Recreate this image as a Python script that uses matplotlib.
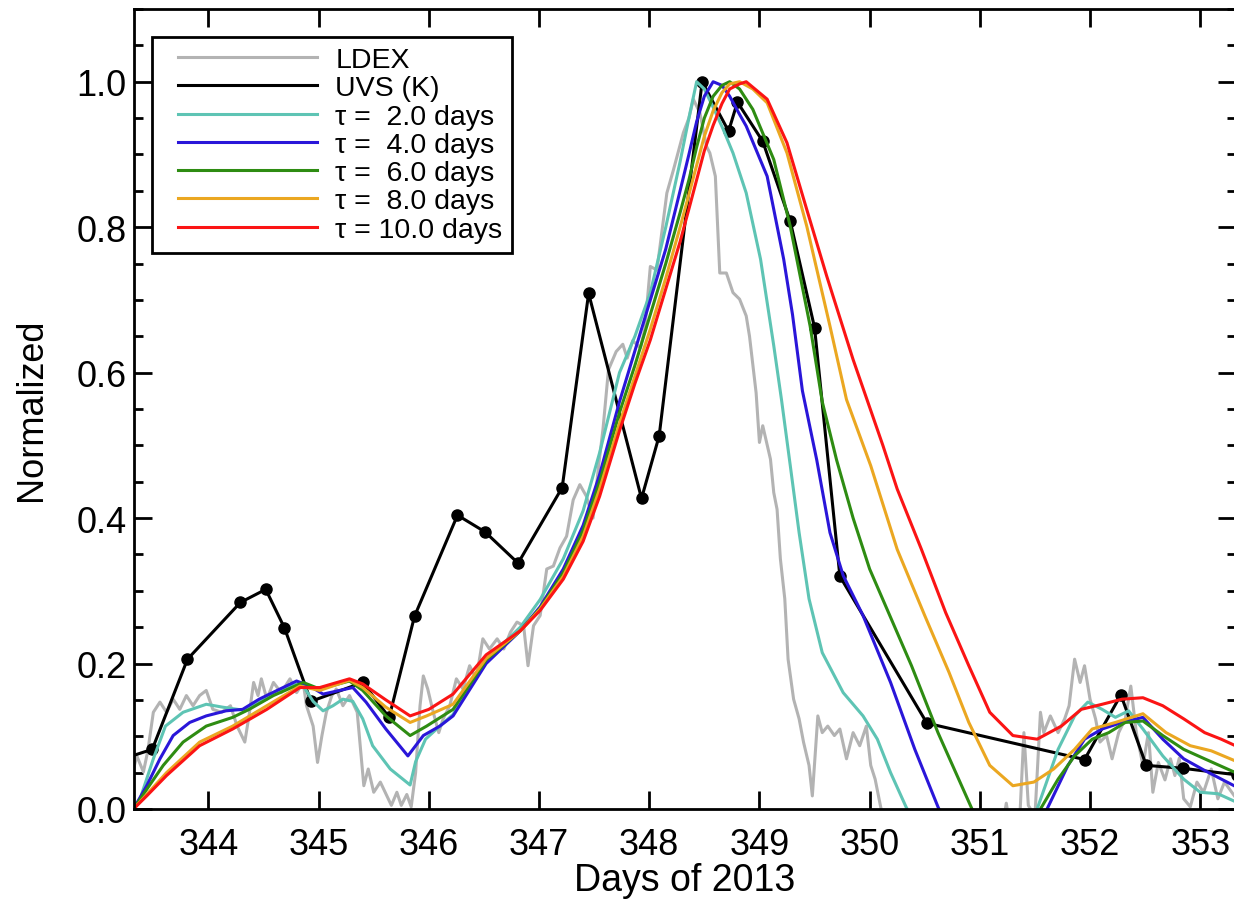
import matplotlib
matplotlib.use("Agg")
import matplotlib.pyplot as plt
from matplotlib.lines import Line2D
from matplotlib.legend_handler import HandlerLine2D
from matplotlib.ticker import MultipleLocator

plt.rcParams['font.family'] = ['Liberation Sans', 'DejaVu Sans']

# LDEX (grey, noisy)
ldex_day = [343.32, 343.35, 343.41, 343.45, 343.50, 343.56, 343.62, 343.68, 343.74, 343.80,
            343.86, 343.92, 343.98, 344.04, 344.12, 344.20, 344.26, 344.33, 344.37, 344.41,
            344.45, 344.48, 344.53, 344.59, 344.66, 344.74, 344.80, 344.86, 344.89, 344.95,
            344.99, 345.03, 345.07, 345.12, 345.16, 345.22, 345.28, 345.35, 345.38, 345.41,
            345.45, 345.50, 345.56, 345.62, 345.66, 345.71, 345.75, 345.80, 345.84, 345.88,
            345.92, 345.95, 345.99, 346.04, 346.09, 346.13, 346.19, 346.25, 346.31, 346.37,
            346.43, 346.49, 346.55, 346.62, 346.68, 346.74, 346.80, 346.86, 346.90, 346.95,
            347.01, 347.07, 347.13, 347.19, 347.25, 347.31, 347.37, 347.43, 347.49, 347.54,
            347.58, 347.63, 347.70, 347.76, 347.80, 347.85, 347.92, 347.96, 348.01, 348.07,
            348.12, 348.16, 348.22, 348.31, 348.36, 348.40, 348.46, 348.52, 348.55, 348.60,
            348.64, 348.70, 348.76, 348.82, 348.88, 348.91, 348.97, 349.00, 349.03, 349.10,
            349.13, 349.16, 349.19, 349.23, 349.26, 349.31, 349.36, 349.40, 349.45, 349.48,
            349.53, 349.57, 349.62, 349.68, 349.73, 349.79, 349.85, 349.91, 349.97, 350.01,
            350.05, 350.10, 350.15, 351.20, 351.24, 351.27, 351.36, 351.40, 351.44, 351.50,
            351.55, 351.58, 351.64, 351.71, 351.77, 351.81, 351.86, 351.91, 351.95, 352.00,
            352.05, 352.09, 352.15, 352.20, 352.26, 352.32, 352.37, 352.42, 352.48, 352.53,
            352.57, 352.62, 352.68, 352.73, 352.77, 352.81, 352.85, 352.91, 352.97, 353.03,
            353.10, 353.16, 353.22, 353.31]
ldex_val = [0.055, 0.073, 0.051, 0.080, 0.133, 0.147, 0.133, 0.151, 0.137, 0.156,
            0.142, 0.156, 0.163, 0.137, 0.133, 0.142, 0.114, 0.092, 0.130, 0.174,
            0.156, 0.179, 0.151, 0.174, 0.160, 0.179, 0.160, 0.174, 0.142, 0.114,
            0.064, 0.101, 0.133, 0.156, 0.165, 0.142, 0.156, 0.133, 0.082, 0.032,
            0.055, 0.023, 0.037, 0.018, 0.005, 0.023, 0.005, 0.020, 0.003, 0.050,
            0.142, 0.183, 0.165, 0.133, 0.105, 0.124, 0.142, 0.179, 0.165, 0.197,
            0.179, 0.234, 0.220, 0.234, 0.220, 0.243, 0.257, 0.252, 0.197, 0.252,
            0.266, 0.330, 0.334, 0.359, 0.375, 0.425, 0.446, 0.430, 0.400, 0.471,
            0.522, 0.604, 0.629, 0.639, 0.620, 0.644, 0.634, 0.660, 0.746, 0.741,
            0.800, 0.847, 0.879, 0.930, 0.950, 0.976, 0.957, 0.911, 0.902, 0.870,
            0.737, 0.737, 0.710, 0.701, 0.678, 0.650, 0.572, 0.504, 0.527, 0.481,
            0.435, 0.412, 0.344, 0.289, 0.206, 0.151, 0.124, 0.092, 0.060, 0.018,
            0.128, 0.105, 0.114, 0.101, 0.110, 0.069, 0.105, 0.087, 0.114, 0.060,
            0.041, 0.003, -0.030, -0.030, 0.008, -0.020, -0.020, 0.105, 0.005, -0.010,
            0.133, 0.105, 0.128, 0.105, 0.124, 0.142, 0.206, 0.174, 0.197, 0.151,
            0.124, 0.092, 0.101, 0.069, 0.105, 0.124, 0.169, 0.105, 0.060, 0.105,
            0.023, 0.064, 0.040, 0.069, 0.046, 0.070, 0.014, 0.003, 0.037, 0.023,
            0.055, 0.014, 0.037, 0.018]

# UVS (K) black points
uvs_day = [343.00, 343.49, 343.81, 344.29, 344.52, 344.69, 344.93, 345.40, 345.64, 345.87,
           346.26, 346.51, 346.81, 347.21, 347.45, 347.93, 348.09, 348.48, 348.72, 348.80,
           349.03, 349.28, 349.50, 349.73, 350.52, 351.95, 352.28, 352.51, 352.84, 353.33]
uvs_val = [0.058, 0.082, 0.206, 0.284, 0.302, 0.249, 0.148, 0.174, 0.126, 0.265,
           0.404, 0.381, 0.338, 0.442, 0.709, 0.427, 0.513, 1.000, 0.932, 0.972,
           0.918, 0.808, 0.662, 0.320, 0.118, 0.068, 0.157, 0.060, 0.056, 0.047]

# tau = 2 days
t2_day = [343.32, 343.38, 343.50, 343.61, 343.77, 343.98, 344.13, 344.31, 344.50, 344.65,
          344.84, 344.95, 345.04, 345.13, 345.22, 345.31, 345.40, 345.49, 345.65, 345.83,
          345.88, 345.97, 346.10, 346.22, 346.52, 346.83, 347.01, 347.22, 347.40, 347.55,
          347.73, 347.87, 348.01, 348.15, 348.28, 348.36, 348.43, 348.50, 348.58, 348.67,
          348.76, 348.88, 349.01, 349.13, 349.20, 349.28, 349.36, 349.45, 349.57, 349.76,
          349.94, 350.07, 350.19, 350.33, 350.45, 351.40, 351.52, 351.71, 351.86, 351.98,
          352.11, 352.23, 352.35, 352.48, 352.66, 352.85, 353.00, 353.16, 353.32]
t2_val = [0.0, 0.014, 0.069, 0.114, 0.133, 0.144, 0.140, 0.136, 0.150, 0.163,
          0.174, 0.148, 0.135, 0.142, 0.151, 0.148, 0.124, 0.087, 0.055, 0.033,
          0.065, 0.096, 0.114, 0.130, 0.205, 0.250, 0.288, 0.344, 0.410, 0.490,
          0.600, 0.650, 0.710, 0.800, 0.890, 0.950, 1.000, 0.990, 0.965, 0.935,
          0.902, 0.847, 0.756, 0.637, 0.563, 0.472, 0.380, 0.289, 0.215, 0.160,
          0.128, 0.096, 0.050, 0.003, -0.030, -0.030, 0.0, 0.082, 0.128, 0.147,
          0.137, 0.126, 0.135, 0.110, 0.073, 0.041, 0.023, 0.021, 0.010]

# tau = 4 days
t4_day = [343.32, 343.44, 343.56, 343.68, 343.83, 343.98, 344.16, 344.31, 344.46, 344.65,
          344.80, 344.92, 345.04, 345.19, 345.31, 345.43, 345.61, 345.81, 345.95, 346.10,
          346.22, 346.52, 346.83, 347.01, 347.22, 347.40, 347.55, 347.73, 347.87, 348.01,
          348.15, 348.28, 348.36, 348.43, 348.50, 348.58, 348.66, 348.73, 348.82, 348.88,
          349.07, 349.22, 349.30, 349.39, 349.52, 349.64, 349.76, 349.94, 350.19, 350.41,
          350.62, 350.75, 351.50, 351.61, 351.80, 351.95, 352.11, 352.29, 352.48, 352.66,
          352.85, 353.04, 353.32]
t4_val = [0.0, 0.032, 0.069, 0.101, 0.119, 0.128, 0.135, 0.137, 0.151, 0.165,
          0.176, 0.169, 0.158, 0.163, 0.167, 0.147, 0.110, 0.073, 0.101, 0.114,
          0.128, 0.200, 0.245, 0.278, 0.330, 0.390, 0.460, 0.560, 0.630, 0.700,
          0.770, 0.850, 0.900, 0.945, 0.980, 1.000, 0.995, 0.980, 0.955, 0.939,
          0.870, 0.756, 0.680, 0.575, 0.480, 0.380, 0.321, 0.266, 0.174, 0.082,
          0.003, -0.040, -0.040, 0.0, 0.060, 0.096, 0.110, 0.119, 0.126, 0.096,
          0.069, 0.053, 0.031]

# tau = 6 days
t6_day = [343.32, 343.44, 343.59, 343.77, 343.98, 344.22, 344.37, 344.59, 344.86, 345.01,
          345.28, 345.40, 345.61, 345.83, 345.98, 346.22, 346.52, 346.83, 347.01, 347.22,
          347.40, 347.55, 347.73, 347.87, 348.01, 348.15, 348.28, 348.36, 348.43, 348.50,
          348.58, 348.66, 348.73, 348.82, 348.94, 349.13, 349.28, 349.46, 349.57, 349.70,
          349.85, 350.00, 350.20, 350.38, 350.62, 350.92, 351.02, 351.45, 351.55, 351.71,
          351.86, 352.02, 352.17, 352.32, 352.48, 352.66, 352.85, 353.04, 353.32]
t6_val = [0.0, 0.027, 0.060, 0.092, 0.114, 0.126, 0.137, 0.156, 0.174, 0.165,
          0.176, 0.163, 0.128, 0.101, 0.114, 0.137, 0.205, 0.245, 0.276, 0.325,
          0.383, 0.450, 0.545, 0.610, 0.680, 0.750, 0.820, 0.865, 0.910, 0.950,
          0.980, 0.995, 1.000, 0.990, 0.962, 0.893, 0.801, 0.664, 0.560, 0.480,
          0.400, 0.330, 0.260, 0.197, 0.105, 0.003, -0.030, -0.030, 0.0, 0.041,
          0.073, 0.096, 0.105, 0.119, 0.121, 0.101, 0.082, 0.069, 0.050]

# tau = 8 days
t8_day = [343.32, 343.44, 343.62, 343.92, 344.22, 344.53, 344.83, 345.01, 345.28, 345.40,
          345.61, 345.83, 345.98, 346.22, 346.52, 346.83, 347.01, 347.22, 347.40, 347.55,
          347.73, 347.87, 348.01, 348.15, 348.28, 348.36, 348.43, 348.50, 348.58, 348.66,
          348.73, 348.82, 348.94, 349.07, 349.25, 349.43, 349.64, 349.79, 350.01, 350.25,
          350.50, 350.72, 350.90, 351.09, 351.30, 351.49, 351.67, 351.86, 352.02, 352.23,
          352.48, 352.69, 352.91, 353.10, 353.32]
t8_val = [0.0, 0.020, 0.050, 0.092, 0.114, 0.142, 0.169, 0.163, 0.177, 0.167,
          0.140, 0.119, 0.128, 0.144, 0.207, 0.245, 0.275, 0.320, 0.375, 0.440,
          0.530, 0.595, 0.660, 0.730, 0.800, 0.845, 0.885, 0.925, 0.960, 0.985,
          0.997, 1.000, 0.990, 0.971, 0.902, 0.801, 0.664, 0.563, 0.472, 0.357,
          0.266, 0.188, 0.119, 0.060, 0.032, 0.037, 0.055, 0.082, 0.110, 0.119,
          0.131, 0.105, 0.087, 0.080, 0.066]

# tau = 10 days
t10_day = [343.32, 343.44, 343.62, 343.92, 344.22, 344.53, 344.83, 345.01, 345.28, 345.40,
           345.61, 345.83, 346.00, 346.22, 346.52, 346.83, 347.01, 347.22, 347.40, 347.55,
           347.73, 347.87, 348.01, 348.15, 348.28, 348.36, 348.43, 348.50, 348.58, 348.66,
           348.73, 348.82, 348.88, 349.07, 349.25, 349.43, 349.61, 349.85, 350.12, 350.25,
           350.47, 350.69, 350.90, 351.09, 351.30, 351.52, 351.74, 351.92, 352.11, 352.29,
           352.48, 352.66, 352.85, 353.04, 353.19, 353.32]
t10_val = [0.0, 0.018, 0.046, 0.087, 0.110, 0.137, 0.167, 0.167, 0.179, 0.172,
           0.150, 0.128, 0.137, 0.158, 0.212, 0.245, 0.273, 0.316, 0.368, 0.430,
           0.520, 0.585, 0.645, 0.715, 0.780, 0.825, 0.865, 0.905, 0.940, 0.970,
           0.990, 0.997, 1.000, 0.976, 0.916, 0.824, 0.733, 0.618, 0.500, 0.440,
           0.357, 0.270, 0.197, 0.133, 0.101, 0.096, 0.114, 0.137, 0.144, 0.151,
           0.153, 0.142, 0.124, 0.105, 0.096, 0.087]

labels = ["LDEX", "UVS (K)", "τ =  2.0 days", "τ =  4.0 days", "τ =  6.0 days",
          "τ =  8.0 days", "τ = 10.0 days"]
colors = ["#b3b3b3", "black", "#5ec4b4", "#2a16d9", "#2e8c12", "#eba721", "#fb1414"]

fig = plt.figure(figsize=(12.34, 9.04), dpi=100)
ax = fig.add_axes([133.5 / 1234, 94 / 904, 1102 / 1234, 800 / 904])

lw = 2.2
ax.plot(ldex_day, ldex_val, color=colors[0], lw=lw)
ax.plot(uvs_day, uvs_val, color=colors[1], lw=lw, marker="o", ms=8)
tau_series = [(t2_day, t2_val), (t4_day, t4_val), (t6_day, t6_val),
              (t8_day, t8_val), (t10_day, t10_val)]
for (d, v), c in zip(tau_series, colors[2:]):
    ax.plot(d, v, color=c, lw=lw)

ax.set_xlim(343.32, 353.32)
ax.set_ylim(0, 1.1)
ax.xaxis.set_major_locator(MultipleLocator(1))
ax.yaxis.set_major_locator(MultipleLocator(0.2))
ax.yaxis.set_minor_locator(MultipleLocator(0.05))
ax.yaxis.set_major_formatter(plt.FormatStrFormatter("%.1f"))

for s in ax.spines.values():
    s.set_linewidth(2.0)
ax.spines["right"].set_visible(False)
ax.tick_params(which="both", direction="in", top=True, right=True, width=2.0)
ax.tick_params(which="major", length=13, labelsize=26)
ax.tick_params(which="minor", length=6.5)
ax.tick_params(axis="x", pad=13)
ax.tick_params(axis="y", pad=5)

ax.set_xlabel("Days of 2013", fontsize=27, labelpad=0)
ax.set_ylabel("Normalized", fontsize=26, labelpad=20)

handles = [Line2D([], [], color=c, lw=lw) for c in colors]
leg = ax.legend(handles, labels, loc="upper left", bbox_to_anchor=(0.0168, 0.965),
                borderaxespad=0, fontsize=20.5, frameon=True, fancybox=False,
                edgecolor="black", framealpha=1, borderpad=0.35, labelspacing=0.08,
                handlelength=5.46, handletextpad=0.63,
                handler_map={Line2D: HandlerLine2D(xpad=0.58)})
leg.get_frame().set_linewidth(2.0)

fig.savefig("out.png", dpi=100)
